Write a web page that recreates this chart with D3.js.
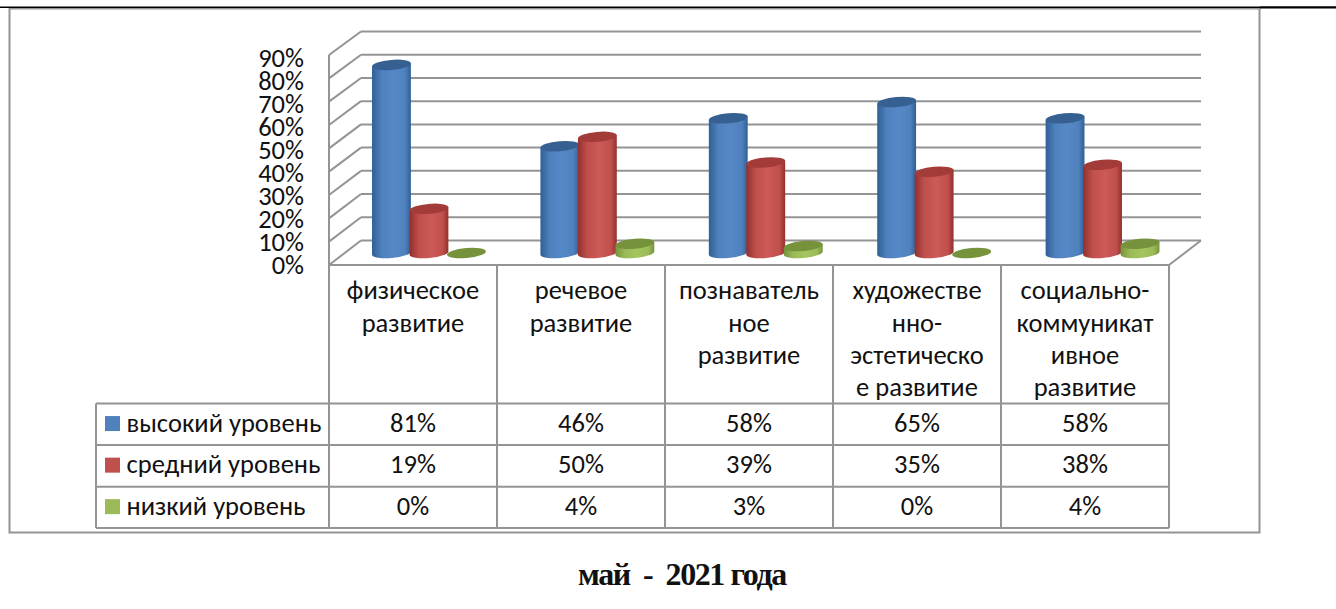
<!DOCTYPE html>
<html>
<head>
<meta charset="utf-8">
<script src="https://cdn.jsdelivr.net/npm/d3@7"></script>
<style>
  html, body { margin: 0; padding: 0; background: #fff; overflow: hidden; }
  text { font-family: Carlito, Lato, "Open Sans", sans-serif; fill: #111; }
</style>
</head>
<body>
<div id="container"></div>
<script>
// chart data
var categoryLines = [
    ["физическое", "развитие"],
    ["речевое", "развитие"],
    ["познаватель", "ное", "развитие"],
    ["художестве", "нно-", "эстетическо", "е развитие"],
    ["социально-", "коммуникат", "ивное", "развитие"]
];
var seriesNames = ["высокий уровень", "средний уровень", "низкий уровень"];
var high = [0.81, 0.46, 0.58, 0.65, 0.58];
var mid = [0.19, 0.50, 0.39, 0.35, 0.38];
var low = [0, 0.04, 0.03, 0, 0.04];
var ticks = [0, 0.1, 0.2, 0.3, 0.4, 0.5, 0.6, 0.7, 0.8, 0.9];
var title = "май  -  2021 года";

var width = 1336, height = 609;
var grey = "#949494";
var fontSize = "26.5px";
var series = [high, mid, low];
var colors = [
    {edge: "#2f5f96", body: "#4f81bd", light: "#5588c6", top: "#376092"},
    {edge: "#93302e", body: "#c0504d", light: "#cc5a56", top: "#a33b38"},
    {edge: "#76933c", body: "#9bbb59", light: "#a3c65e", top: "#76933c"}
];

var svg = d3.select("#container").append("svg")
    .attr("width", width)
    .attr("height", height);

// page rule + frame
svg.append("rect").attr("x", 9.5).attr("y", 8.5).attr("width", 1250).attr("height", 524)
    .attr("fill", "#fff").attr("stroke", grey).attr("stroke-width", 2);
svg.append("line").attr("x1", 0).attr("x2", 1336).attr("y1", 7.3).attr("y2", 7.3)
    .attr("stroke", "#000").attr("stroke-width", 1.5);
svg.append("line").attr("x1", 1260).attr("x2", 1336).attr("y1", 7.5).attr("y2", 7.5)
    .attr("stroke", "#000").attr("stroke-width", 2);

// 3d box
var depthX = 32;
var left = 329, right = 1169;
var yFront = d3.scaleLinear().domain([0, 0.9]).range([265, 55]);
var yBack = d3.scaleLinear().domain([0, 0.9]).range([240.5, 31.5]);
var yBar = d3.scaleLinear().domain([0, 0.9]).range([253, 44]);
var yLabel = d3.scaleLinear().domain([0, 0.9]).range([264.6, 57.6]);

var grid = svg.append("g")
    .attr("fill", "none")
    .attr("stroke", grey)
    .attr("stroke-width", 2);

grid.selectAll(".back").data(ticks).join("line")
    .attr("x1", left + depthX).attr("x2", right + depthX)
    .attr("y1", d => yBack(d)).attr("y2", d => yBack(d));
grid.selectAll(".side").data(ticks).join("line")
    .attr("x1", left).attr("x2", left + depthX)
    .attr("y1", d => yFront(d)).attr("y2", d => yBack(d));
grid.append("line").attr("x1", left).attr("x2", left)
    .attr("y1", yFront(0)).attr("y2", yFront(0.9));
grid.append("line").attr("x1", right).attr("x2", right + depthX)
    .attr("y1", yFront(0)).attr("y2", yBack(0));

// tick labels
var axis = d3.axisLeft(yLabel)
    .tickValues(ticks)
    .tickSize(0)
    .tickPadding(0)
    .tickFormat(d3.format(".0%"));
svg.append("g")
    .attr("transform", "translate(304,0)")
    .call(axis)
    .call(g => g.select(".domain").remove())
    .selectAll("text")
    .style("font-family", "Carlito, Lato, 'Open Sans', sans-serif")
    .style("font-size", fontSize);

// cylinders
var x = d3.scaleBand().domain(d3.range(5)).range([left + 16, right + 18]);
var offset = d3.scaleBand().domain(d3.range(3)).range([-56.5, 56]);
var rx = 19.5, ry = 5, tilt = 5 * Math.PI / 180;
var ex = rx * Math.cos(tilt), ey = rx * Math.sin(tilt);

var defs = svg.append("defs");
colors.forEach(function(c, i) {
    var grad = defs.append("linearGradient").attr("id", "cyl" + i);
    grad.append("stop").attr("offset", "0%").attr("stop-color", c.edge);
    grad.append("stop").attr("offset", "25%").attr("stop-color", c.body);
    grad.append("stop").attr("offset", "55%").attr("stop-color", c.light);
    grad.append("stop").attr("offset", "85%").attr("stop-color", c.body);
    grad.append("stop").attr("offset", "100%").attr("stop-color", c.edge);
});

var barData = [];
series.forEach(function(values, s) {
    values.forEach(function(v, i) {
        barData.push({s: s, i: i, v: v, cx: x(i) + x.bandwidth() / 2 + offset(s) + offset.bandwidth() / 2});
    });
});
// draw left to right so the neighbour overlaps
barData.sort((a, b) => a.i - b.i || a.s - b.s);

var bars = svg.append("g").selectAll("g").data(barData).join("g");

bars.filter(d => d.v > 0).append("path")
    .attr("fill", d => "url(#cyl" + d.s + ")")
    .attr("d", function(d) {
        var b = yBar(0), t = yBar(d.v);
        return "M" + (d.cx - ex) + "," + (t + ey)
            + "L" + (d.cx - ex) + "," + (b + ey)
            + "A" + rx + "," + ry + " -5 0 0 " + (d.cx + ex) + "," + (b - ey)
            + "L" + (d.cx + ex) + "," + (t - ey) + "Z";
    });
bars.append("ellipse")
    .attr("rx", rx).attr("ry", ry)
    .attr("fill", d => colors[d.s].top)
    .attr("transform", d => "translate(" + d.cx + "," + yBar(d.v) + ") rotate(-5)");

// data table lines
var colX = d3.range(6).map(i => left + i * (right - left) / 5);
var rowY = [403.5, 445, 486.7, 528];
var table = svg.append("g").attr("stroke", grey).attr("stroke-width", 2);
table.append("line").attr("x1", left).attr("x2", right).attr("y1", 265).attr("y2", 265);
table.selectAll(".col").data(colX).join("line")
    .attr("x1", d => d).attr("x2", d => d).attr("y1", 265).attr("y2", 528);
table.selectAll(".row").data(rowY).join("line")
    .attr("x1", 96).attr("x2", right).attr("y1", d => d).attr("y2", d => d);
table.append("line").attr("x1", 96).attr("x2", 96).attr("y1", 403.5).attr("y2", 528);

// category labels
var lineY = [299, 332, 364, 396];
categoryLines.forEach(function(lines, i) {
    svg.append("g").selectAll("text").data(lines).join("text")
        .attr("x", (colX[i] + colX[i + 1]) / 2)
        .attr("y", (d, j) => lineY[j])
        .attr("text-anchor", "middle")
        .style("font-size", fontSize)
        .text(d => d);
});

// legend keys, names and values
seriesNames.forEach(function(name, s) {
    var cy = (rowY[s] + rowY[s + 1]) / 2;
    svg.append("rect").attr("x", 105).attr("y", cy - 8.2)
        .attr("width", 15).attr("height", 15)
        .attr("fill", colors[s].body);
    svg.append("text").attr("x", 126.5).attr("y", cy).attr("dy", "0.28em")
        .style("font-size", fontSize)
        .text(name);
    svg.append("g").selectAll("text").data(series[s]).join("text")
        .attr("x", (d, i) => (colX[i] + colX[i + 1]) / 2)
        .attr("y", cy).attr("dy", "0.28em")
        .attr("text-anchor", "middle")
        .style("font-size", fontSize)
        .text(d => d3.format(".0%")(d));
});

svg.append("text")
    .attr("x", 682).attr("y", 584.5)
    .attr("text-anchor", "middle")
    .style("font-family", "'Liberation Serif', serif")
    .style("font-weight", "bold")
    .style("font-size", "32px")
    .style("letter-spacing", "-1.4px")
    .style("white-space", "pre")
    .text(title);
</script>
</body>
</html>
